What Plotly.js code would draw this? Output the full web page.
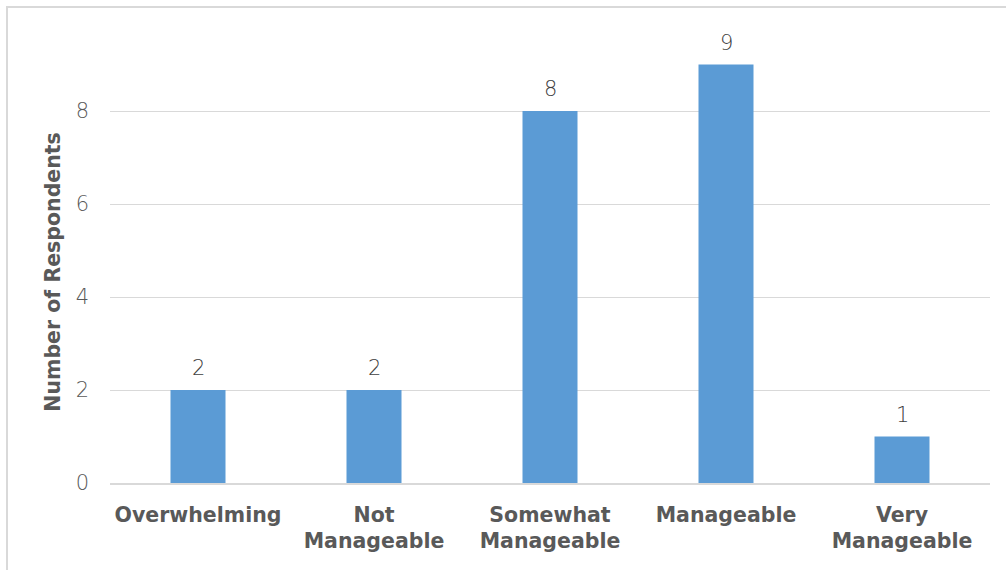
<!DOCTYPE html>
<html>
<head>
<meta charset="utf-8">
<script src="https://cdn.plot.ly/plotly-3.0.1.min.js"></script>
<style>
  html, body { margin: 0; padding: 0; background: #ffffff; overflow: hidden; }
  #frame { position: absolute; left: 6px; top: 6px; width: 1010px; height: 580px;
           border: 2px solid #d9d9d9; box-sizing: border-box; }
  #chart { position: absolute; left: 0; top: 0; width: 1006px; height: 570px; }
</style>
</head>
<body>
<div id="frame"></div>
<div id="chart"></div>
<script>
// Survey responses: how manageable respondents found the workload
const categories = ["Overwhelming", "Not Manageable", "Somewhat Manageable", "Manageable", "Very Manageable"];
const tickText = ["Overwhelming", "Not<br>Manageable", "Somewhat<br>Manageable", "Manageable", "Very<br>Manageable"];
const respondents = [2, 2, 8, 9, 1];
const yTicks = [0, 2, 4, 6, 8];

const trace = {
  type: "bar",
  x: categories,
  y: respondents,
  width: 0.3125,
  marker: { color: "#5b9bd5" },
  hoverinfo: "x+y"
};

// value labels sitting above each bar
const valueLabels = categories.map((c, i) => ({
  x: c, y: respondents[i], xref: "x", yref: "y",
  text: String(respondents[i]), showarrow: false,
  yanchor: "bottom", yshift: 8,
  font: { family: "DejaVu Sans, sans-serif", size: 21, color: "#404040", weight: 300 }
}));

const layout = {
  width: 1006, height: 570,
  margin: { l: 110, r: 16, t: 18, b: 87 },
  paper_bgcolor: "rgba(0,0,0,0)",
  plot_bgcolor: "rgba(0,0,0,0)",
  showlegend: false,
  xaxis: {
    type: "category",
    tickvals: categories,
    ticktext: tickText,
    tickfont: { family: "DejaVu Sans, sans-serif", size: 20.5, color: "#595959", weight: "bold" },
    showgrid: false,
    showline: true, linecolor: "#d9d9d9", linewidth: 2,
    ticks: "", ticklabelstandoff: 12,
    fixedrange: true
  },
  yaxis: {
    range: [0, 10],
    tickvals: yTicks,
    ticktext: yTicks.map(String),
    tickfont: { family: "DejaVu Sans, sans-serif", size: 21, color: "#595959", weight: 300 },
    showgrid: true, gridcolor: "#d9d9d9", gridwidth: 1,
    zeroline: false, showline: false,
    ticks: "", ticklabelstandoff: 20,
    fixedrange: true
  },
  annotations: valueLabels.concat([{
    xref: "paper", yref: "paper",
    x: -0.065, y: 0.454, xanchor: "center", yanchor: "middle",
    text: "<b>Number of Respondents</b>", textangle: -90, showarrow: false,
    font: { family: "DejaVu Sans, sans-serif", size: 20.5, color: "#595959" }
  }])
};

Plotly.newPlot("chart", [trace], layout, { displayModeBar: false, staticPlot: true });
</script>
</body>
</html>
